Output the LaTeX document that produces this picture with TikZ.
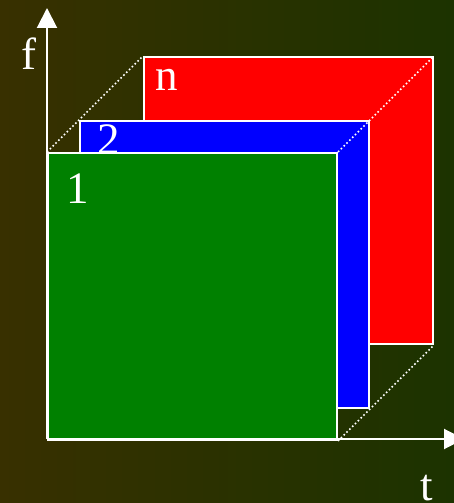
\documentclass[tikz,border=0pt]{standalone}
\usepackage{fontspec}
\setmainfont{Liberation Serif}
\usetikzlibrary{arrows.meta}
\begin{document}
\begin{tikzpicture}[x=1pt,y=1pt,
  plane/.style={draw=white, line width=2pt, inner sep=0pt, minimum width=289pt, minimum height=287pt, anchor=north west},
  lbl/.style={text=white, font=\fontsize{45}{45}\selectfont, inner sep=0pt, anchor=base},
  guide/.style={white, line width=1.6pt, dash pattern=on 1.6pt off 2.4pt},
  axis/.style={white, line width=2pt, -{Triangle[length=20pt,width=20pt]}}]
\useasboundingbox (0,0) rectangle (454,503);
\clip (0,0) rectangle (454,503);
\shade[left color={rgb,255:red,56;green,48;blue,0}, right color={rgb,255:red,28;green,51;blue,0}] (0,0) rectangle (454,503);
\node[plane, fill={rgb,255:red,255;green,0;blue,0}] (r) at (143,447) {};
\node[plane, fill={rgb,255:red,0;green,0;blue,255}] (b) at (79,383) {};
\node[plane, fill={rgb,255:red,0;green,128;blue,0}] (g) at (47,351) {};
\coordinate (o) at (47,64);
\coordinate (ftop) at (47,495);
\coordinate (tend) at (464,64);
\draw[guide] (g.north west) -- (r.north west);
\draw[guide] (g.north east) -- (r.north east);
\draw[guide] (g.south east) -- (r.south east);
\draw[axis] (o) -- (ftop);
\draw[axis] (o) -- (tend);
\node[lbl] (fl) at (29,433) {f};
\node[lbl] (nl) at (167,412) {n};
\node[lbl] (twol) at (109,348) {2};
\node[lbl] (onel) at (78,299) {1};
\node[lbl] (tl) at (427,2) {t};
\end{tikzpicture}
\end{document}
